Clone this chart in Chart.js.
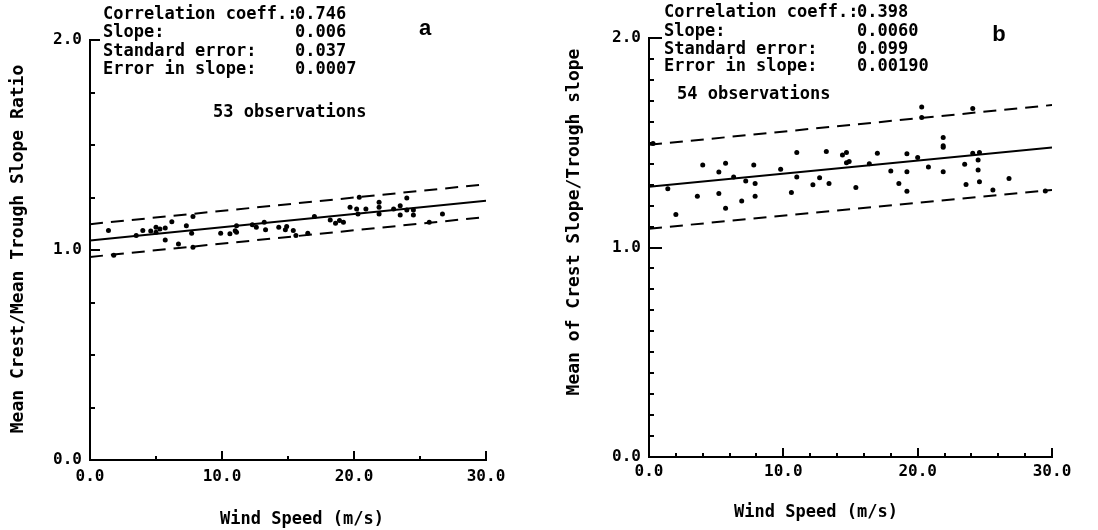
<!DOCTYPE html>
<html>
<head>
<meta charset="utf-8">
<style>
  body { margin: 0; background: #fff; }
  #wrap { position: relative; width: 1098px; height: 530px; }
  canvas { position: absolute; top: 0; }
  #chartA { left: 0; }
  #chartB { left: 549px; }
</style>
</head>
<body>
<div id="wrap">
  <canvas id="chartA" width="549" height="530"></canvas>
  <canvas id="chartB" width="549" height="530"></canvas>
</div>
<script src="https://cdn.jsdelivr.net/npm/chart.js"></script>
<script>
  // panel a: mean crest / mean trough slope ratio vs wind speed
  const windA = [1.4, 1.8, 3.5, 4.0, 4.6, 5.0, 5.0, 5.3, 5.7, 5.7, 6.2, 6.7, 7.3, 7.7, 7.8, 7.8,
    9.9, 10.6, 11.0, 11.1, 11.1, 12.3, 12.6, 13.2, 13.3, 14.3, 14.8, 14.9, 15.4, 15.6, 16.5, 17.0,
    18.2, 18.6, 18.9, 19.2, 19.7, 20.2, 20.3, 20.4, 20.9, 21.9, 21.9, 21.9, 23.0, 23.5, 23.5, 24.0,
    24.0, 24.5, 24.5, 25.7, 26.7];
  const ratioA = [1.093, 0.975, 1.069, 1.093, 1.090, 1.085, 1.108, 1.100, 1.105, 1.048, 1.135, 1.029, 1.116, 1.080, 1.013, 1.160,
    1.080, 1.077, 1.092, 1.116, 1.085, 1.120, 1.108, 1.132, 1.096, 1.108, 1.096, 1.112, 1.093, 1.069, 1.080, 1.159,
    1.143, 1.127, 1.140, 1.132, 1.204, 1.195, 1.172, 1.251, 1.195, 1.227, 1.204, 1.172, 1.195, 1.211, 1.167, 1.248,
    1.190, 1.190, 1.167, 1.132, 1.172];
  const fitA = [1.045, 1.235];
  const upperA = [1.123, 1.313];
  const lowerA = [0.967, 1.157];
  const statLabelsA = ["Correlation coeff.:", "Slope:", "Standard error:", "Error in slope:"];
  const statValuesA = ["0.746", "0.006", "0.037", "0.0007"];

  // panel b: mean of crest slope / trough slope vs wind speed
  const windB = [0.3, 1.4, 2.0, 3.6, 4.0, 5.2, 5.2, 5.7, 5.7, 6.3, 6.9, 7.2, 7.8, 7.9, 7.9, 9.8,
    10.6, 11.0, 11.0, 12.2, 12.7, 13.2, 13.4, 14.4, 14.7, 14.7, 14.9, 15.4, 16.4, 17.0, 18.0, 18.6,
    19.2, 19.2, 19.2, 20.0, 20.3, 20.3, 20.8, 21.9, 21.9, 21.9, 21.9, 23.5, 23.6, 24.1, 24.1, 24.5,
    24.5, 24.6, 24.6, 25.6, 26.8, 29.5];
  const ratioB = [1.497, 1.281, 1.158, 1.245, 1.394, 1.360, 1.258, 1.402, 1.187, 1.336, 1.222, 1.317, 1.394, 1.306, 1.245, 1.373,
    1.262, 1.453, 1.336, 1.300, 1.333, 1.458, 1.305, 1.442, 1.453, 1.405, 1.410, 1.286, 1.400, 1.450, 1.365, 1.306,
    1.448, 1.362, 1.269, 1.429, 1.671, 1.620, 1.384, 1.525, 1.486, 1.478, 1.362, 1.397, 1.301, 1.664, 1.450, 1.418,
    1.370, 1.453, 1.314, 1.274, 1.329, 1.270];
  const fitB = [1.29, 1.477];
  const upperB = [1.49, 1.68];
  const lowerB = [1.09, 1.275];
  const statLabelsB = ["Correlation coeff.:", "Slope:", "Standard error:", "Error in slope:"];
  const statValuesB = ["0.398", "0.0060", "0.099", "0.00190"];

  const lineX = [0, 30];
  const xTicks = [0, 10, 20, 30];
  const yTicks = [0, 1, 2];

  const MONO = "'DejaVu Sans Mono', monospace";

  function seg(ys, dash) {
    return {
      type: "line",
      data: lineX.map((x, i) => ({ x, y: ys[i] })),
      borderColor: "#000",
      borderWidth: 2,
      borderDash: dash,
      pointRadius: 0,
      fill: false,
    };
  }

  function makeChart(id, p) {
    const marks = {
      id: "marks" + id,
      afterDraw(chart) {
        const ctx = chart.ctx;
        const { x, y } = chart.scales;
        ctx.save();
        ctx.strokeStyle = "#000";
        ctx.lineWidth = 2;
        ctx.beginPath();
        for (let v = 0; v <= 2.0001; v += p.yStep) {
          const py = Math.round(y.getPixelForValue(v));
          const big = Math.abs(v - Math.round(v)) < 1e-6;
          ctx.moveTo(x.left, py);
          ctx.lineTo(x.left + (big ? p.yBig : 5), py);
        }
        for (let v = 0; v <= 30.0001; v += p.xStep) {
          const px = Math.round(x.getPixelForValue(v));
          const big = v % 10 === 0;
          ctx.moveTo(px, y.bottom);
          ctx.lineTo(px, y.bottom - (big ? 9 : 4));
        }
        ctx.stroke();

        ctx.fillStyle = "#000";
        ctx.textBaseline = "middle";
        ctx.textAlign = "left";
        ctx.font = "bold 17px " + MONO;
        p.labels.forEach((t, i) => {
          ctx.fillText(t, p.statX, p.statY[i]);
          ctx.fillText(p.values[i], p.valX, p.statY[i]);
        });
        ctx.fillText(p.obs, p.obsX, p.obsY);

        ctx.font = "bold 22px 'Liberation Sans', Arial, sans-serif";
        ctx.textAlign = "center";
        ctx.textBaseline = "alphabetic";
        ctx.fillText(p.letter, p.letterX, p.letterY);

        ctx.textBaseline = "middle";
        ctx.font = "bold 17px " + MONO;
        ctx.fillText(p.xTitle, p.xTitleX, p.xTitleY);
        ctx.translate(p.yTitleX, p.yTitleY);
        ctx.rotate(-Math.PI / 2);
        ctx.font = "bold 18px " + MONO;
        ctx.fillText(p.yTitle, 0, 0);
        ctx.restore();
      },
    };

    return new Chart(document.getElementById(id), {
      type: "scatter",
      data: {
        datasets: [
          {
            data: p.xs.map((x, i) => ({ x, y: p.ys[i] })),
            backgroundColor: "#000",
            borderWidth: 0,
            pointRadius: 2.5,
          },
          seg(p.fit, []),
          seg(p.upper, [13, 8]),
          seg(p.lower, [13, 8]),
        ],
      },
      options: {
        responsive: false,
        animation: false,
        layout: { padding: { top: p.top, right: p.right, left: 0, bottom: 0 } },
        plugins: { legend: { display: false }, tooltip: { enabled: false } },
        scales: {
          x: {
            type: "linear",
            min: 0,
            max: 30,
            afterBuildTicks: (s) => { s.ticks = xTicks.map((v) => ({ value: v })); },
            afterFit: (s) => { s.height = p.xH; },
            grid: { display: false, drawTicks: false },
            border: { display: true, color: "#000", width: 2 },
            ticks: {
              color: "#000",
              padding: p.xPad,
              maxRotation: 0,
              font: { family: MONO, size: 16, weight: "bold" },
              callback: (v) => Number(v).toFixed(1),
            },
          },
          y: {
            type: "linear",
            min: 0,
            max: 2,
            afterBuildTicks: (s) => { s.ticks = yTicks.map((v) => ({ value: v })); },
            afterFit: (s) => { s.width = p.yW; },
            grid: { display: false, drawTicks: false },
            border: { display: true, color: "#000", width: 2 },
            ticks: {
              color: "#000",
              padding: 8,
              font: { family: MONO, size: 16, weight: "bold" },
              callback: (v) => Number(v).toFixed(1),
            },
          },
        },
      },
      plugins: [marks],
    });
  }

  makeChart("chartA", {
    xs: windA, ys: ratioA, fit: fitA, upper: upperA, lower: lowerA,
    labels: statLabelsA, values: statValuesA,
    top: 40, right: 63, xH: 70, yW: 90, xPad: 7,
    yStep: 0.25, xStep: 5, yBig: 10,
    statX: 103, valX: 295, statY: [15, 33, 52, 70],
    obs: "53 observations", obsX: 213, obsY: 113,
    letter: "a", letterX: 425, letterY: 35,
    xTitle: "Wind Speed (m/s)", xTitleX: 302, xTitleY: 520,
    yTitle: "Mean Crest/Mean Trough Slope Ratio", yTitleX: 18, yTitleY: 249,
  });

  makeChart("chartB", {
    xs: windB, ys: ratioB, fit: fitB, upper: upperB, lower: lowerB,
    labels: statLabelsB, values: statValuesB,
    top: 38, right: 46, xH: 73, yW: 100, xPad: 5,
    yStep: 0.1, xStep: 2, yBig: 13,
    statX: 115, valX: 308, statY: [13, 32, 50, 67],
    obs: "54 observations", obsX: 128, obsY: 95,
    letter: "b", letterX: 450, letterY: 41,
    xTitle: "Wind Speed (m/s)", xTitleX: 267, xTitleY: 513,
    yTitle: "Mean of Crest Slope/Trough slope", yTitleX: 25, yTitleY: 222,
  });
</script>
</body>
</html>
